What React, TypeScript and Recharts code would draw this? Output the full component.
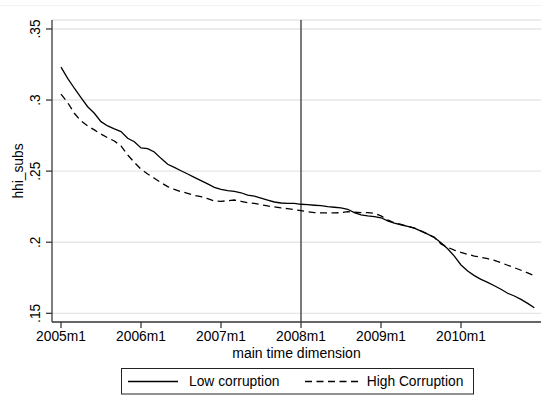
import React from 'react';
import { LineChart, Line, XAxis, YAxis, CartesianGrid, ReferenceLine, Legend } from 'recharts';

const FONT = '"Liberation Sans", Arial, Helvetica, sans-serif';

// Month index (0 = 2005m1) of each labelled x tick
const monthTicks = [0, 12, 24, 36, 48, 60];
const monthTickLabels = ['2005m1', '2006m1', '2007m1', '2008m1', '2009m1', '2010m1'];

const yTicks = [0.15, 0.2, 0.25, 0.3, 0.35];
const yTickLabels = ['.15', '.2', '.25', '.3', '.35'];

// Reference month (2008m1)
const breakMonth = 36;

const seriesNames = ['Low corruption', 'High Corruption'];

// Monthly hhi_subs, 2005m1 .. 2010m12
const lowCorruption = [
  0.3231, 0.3153, 0.3083, 0.3017, 0.2953, 0.2907, 0.2848, 0.2818, 0.2797, 0.2778, 0.2731, 0.2707,
  0.2663, 0.2658, 0.2635, 0.2590, 0.2548, 0.2527, 0.2503, 0.2480, 0.2456, 0.2433, 0.2410, 0.2386,
  0.2372, 0.2363, 0.2358, 0.2348, 0.2332, 0.2325, 0.2311, 0.2297, 0.2283, 0.2276, 0.2274, 0.2274,
  0.2267, 0.2264, 0.2260, 0.2257, 0.2250, 0.2246, 0.2241, 0.2232, 0.2208, 0.2192, 0.2185, 0.2180,
  0.2172, 0.2150, 0.2134, 0.2123, 0.2111, 0.2099, 0.2078, 0.2057, 0.2033, 0.1996, 0.1954, 0.1902,
  0.1840, 0.1798, 0.1765, 0.1739, 0.1718, 0.1694, 0.1669, 0.1641, 0.1622, 0.1598, 0.1570, 0.1539,
];

const highCorruption = [
  0.3041, 0.2982, 0.2907, 0.2853, 0.2818, 0.2790, 0.2761, 0.2735, 0.2712, 0.2677, 0.2614, 0.2562,
  0.2513, 0.2480, 0.2450, 0.2419, 0.2391, 0.2372, 0.2356, 0.2344, 0.2330, 0.2320, 0.2306, 0.2290,
  0.2288, 0.2292, 0.2297, 0.2288, 0.2278, 0.2274, 0.2264, 0.2255, 0.2248, 0.2241, 0.2236, 0.2230,
  0.2222, 0.2215, 0.2208, 0.2206, 0.2206, 0.2206, 0.2208, 0.2215, 0.2211, 0.2208, 0.2208, 0.2203,
  0.2185, 0.2157, 0.2136, 0.2125, 0.2112, 0.2100, 0.2080, 0.2058, 0.2034, 0.1988, 0.1964, 0.1945,
  0.1929, 0.1915, 0.1903, 0.1894, 0.1884, 0.1872, 0.1856, 0.1838, 0.1821, 0.1803, 0.1784, 0.1765,
];

const data = lowCorruption.map((v, i) => ({ month: i, low: v, high: highCorruption[i] }));

const AXIS_COLOR = '#3a3a3a';
const DASH = '7 4.5';

const XTick = (props: any) => {
  const { x, y, payload } = props;
  const idx = monthTicks.indexOf(payload.value);
  return (
    <text x={x} y={y} dy={11} textAnchor="middle" fontSize={13.8} fontFamily={FONT} fill="#000">
      {idx >= 0 ? monthTickLabels[idx] : ''}
    </text>
  );
};

const YTick = (props: any) => {
  const { x, y, payload } = props;
  const idx = yTicks.findIndex((t) => Math.abs(t - payload.value) < 1e-9);
  return (
    <text
      x={x}
      y={y}
      transform={`rotate(-90 ${x} ${y})`}
      textAnchor="middle"
      fontSize={13.8}
      fontFamily={FONT}
      fill="#000"
    >
      {idx >= 0 ? yTickLabels[idx] : ''}
    </text>
  );
};

const YTitle = () => (
  <text x={23} y={171} transform="rotate(-90 23 171)" textAnchor="middle" fontSize={13.8} fontFamily={FONT} fill="#000">
    hhi_subs
  </text>
);

const XTitle = () => (
  <text x={296.5} y={357.5} textAnchor="middle" fontSize={14} fontFamily={FONT} fill="#000">
    main time dimension
  </text>
);

const LegendBox = () => (
  <svg width={353} height={27} style={{ display: 'block' }}>
    <rect x={0.5} y={0.5} width={352} height={25.5} fill="#fff" stroke="#222" strokeWidth={1} />
    <line x1={7} x2={57} y1={13.5} y2={13.5} stroke="#000" strokeWidth={1.3} />
    <text x={68} y={18.3} fontSize={13.8} fontFamily={FONT} fill="#000">{seriesNames[0]}</text>
    <line x1={184} x2={237} y1={13.5} y2={13.5} stroke="#000" strokeWidth={1.3} strokeDasharray={DASH} />
    <text x={245.7} y={18.3} fontSize={13.8} fontFamily={FONT} fill="#000">{seriesNames[1]}</text>
  </svg>
);

export default function App() {
  return (
    <div style={{ position: 'absolute', left: 0, top: 0, width: 542, height: 402, background: '#fff' }}>
      <div style={{ position: 'absolute', left: 0, top: 5, width: 542, height: 1, background: '#f2f2f2' }} />
      <LineChart width={542} height={402} data={data} margin={{ top: 20, right: 1, left: 0, bottom: 0 }}>
        <CartesianGrid vertical={false} stroke="#e6e6e6" strokeWidth={1.4} />
        <XAxis
          dataKey="month"
          type="number"
          domain={[-1.35, 72]}
          allowDataOverflow
          ticks={monthTicks}
          interval={0}
          height={80}
          tickSize={6}
          tickMargin={2}
          tick={<XTick />}
          axisLine={{ stroke: AXIS_COLOR, strokeWidth: 1.3 }}
          tickLine={{ stroke: AXIS_COLOR, strokeWidth: 1.3 }}
          label={<XTitle />}
        />
        <YAxis
          type="number"
          domain={[0.1439, 0.3563]}
          allowDataOverflow
          ticks={yTicks}
          interval={0}
          width={52}
          tickSize={6}
          tickMargin={6}
          tick={<YTick />}
          axisLine={{ stroke: AXIS_COLOR, strokeWidth: 1.3 }}
          tickLine={{ stroke: AXIS_COLOR, strokeWidth: 1.3 }}
          label={<YTitle />}
        />
        <ReferenceLine x={breakMonth} stroke="#333" strokeWidth={1.3} />
        <Line
          type="linear"
          dataKey="low"
          name={seriesNames[0]}
          stroke="#000"
          strokeWidth={1.3}
          dot={false}
          activeDot={false}
          isAnimationActive={false}
        />
        <Line
          type="linear"
          dataKey="high"
          name={seriesNames[1]}
          stroke="#000"
          strokeWidth={1.3}
          strokeDasharray={DASH}
          dot={false}
          activeDot={false}
          isAnimationActive={false}
        />
        <Legend
          layout="horizontal"
          verticalAlign="middle"
          align="center"
          wrapperStyle={{ left: 121, top: 368, width: 353, height: 27 }}
          content={<LegendBox />}
        />
      </LineChart>
    </div>
  );
}
